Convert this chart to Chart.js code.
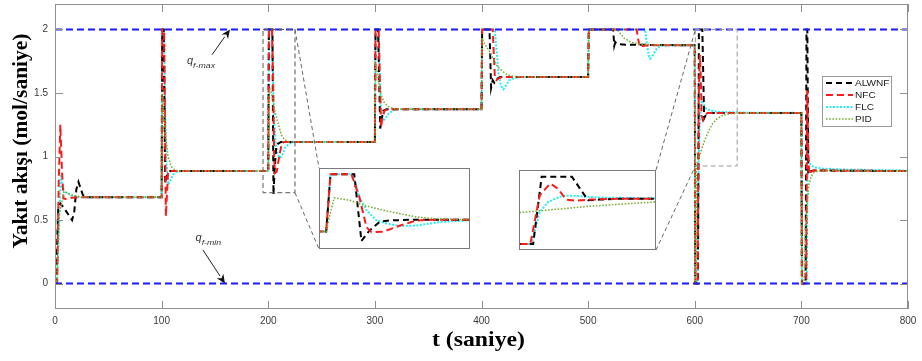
<!DOCTYPE html>
<html><head><meta charset="utf-8">
<script src="https://cdn.jsdelivr.net/npm/chart.js@4.4.1/dist/chart.umd.min.js"></script>
<style>
html,body{margin:0;padding:0;background:#fff;}
#wrap{position:relative;width:922px;height:361px;overflow:hidden;}
canvas{position:absolute;}
</style></head><body>
<div id="wrap">
<canvas id="main" width="922" height="361" style="left:0;top:0"></canvas>
<canvas id="inset1" width="151" height="81" style="left:319px;top:168px"></canvas>
<canvas id="inset2" width="137" height="80" style="left:519px;top:170px"></canvas>
</div>
<script>
// ---------- data (t [s], fuel flow [mol/s]) ----------
const seriesNames = ['ALWNF', 'NFC', 'FLC', 'PID'];
const xTicks = [0, 100, 200, 300, 400, 500, 600, 700, 800];
const yTicks = [0, 0.5, 1, 1.5, 2];
const qMaxLine = [[0, 2], [800, 2]];
const qMinLine = [[0, 0], [800, 0]];

const alwnf = [
 [0,0],[1,0],[3,0.6],[5,0.63],[8,0.6],[12,0.55],[16,0.5],[18,0.56],[20,0.74],[22,0.8],[24,0.75],[26,0.7],[28,0.68],
 [100,0.68],[100.6,2],[102,2],[103.3,0.79],[104.5,0.84],[106,0.87],[108,0.885],
 [200,0.885],[200.6,2],[203.9,2],[204.9,0.70],[206,0.9],[207.5,1.08],[209,1.1],[212,1.115],
 [300,1.115],[300.6,2],[303,2],[305,1.22],[306.5,1.3],[308,1.36],[311,1.372],
 [400,1.372],[400.6,2],[407.5,2],[409,1.54],[410.5,1.6],[412,1.58],[414,1.61],[418,1.625],
 [500,1.625],[500.6,2],[523.5,2],[524.5,1.87],[525.5,1.9],[527,1.885],[535,1.88],
 [600,1.875],[600.5,0],[603,0],[603.9,2],[607.1,2],[608.8,1.3],[610,1.32],[612,1.343],
 [700,1.343],[700.5,0],[704,0],[704.8,2],[705.6,2],[706.5,0.86],[708,0.88],[711,0.89],
 [800,0.885]
];
const nfc = [
 [0,0],[2,0],[3.5,0.8],[5,1.25],[6.5,0.9],[8,0.67],[10,0.665],[16,0.675],[22,0.68],
 [100,0.68],[100.6,2],[102.3,2],[104,0.53],[105,0.7],[106,0.87],[107.5,0.89],[110,0.885],
 [200,0.885],[200.6,2],[203.5,2],[204.6,1.56],[205.6,0.97],[206.3,0.87],[207.9,0.88],[210.3,1.0],[212.6,1.1],[215,1.115],
 [300,1.115],[300.6,2],[303.5,2],[305.8,1.23],[307,1.3],[309,1.36],[312,1.372],
 [400,1.372],[400.6,2],[410.5,2],[412.5,1.63],[414,1.6],[417,1.62],[420,1.625],
 [500,1.625],[500.6,2],[545.5,2],[547,1.92],[548.5,1.86],[551,1.87],[556,1.875],
 [600,1.875],[600.5,0],[602.7,0],[603.7,1.45],[604.8,1.8],[605.6,1.65],[606.5,1.32],[607.5,1.29],[609,1.32],[612,1.343],
 [700,1.343],[700.5,0],[704.5,0],[705.5,1.52],[706.5,1.0],[707.5,0.86],[709,0.88],[712,0.89],
 [800,0.885]
];
const flc = [
 [0,0],[2,0],[4,0.5],[5.5,0.86],[7,0.76],[9,0.72],[12,0.71],[16,0.69],[22,0.68],
 [100,0.68],[100.6,2],[102.5,2],[103.5,1.3],[104.5,0.95],[106.3,0.78],[108.5,0.82],[111,0.86],[114,0.88],[118,0.885],
 [200,0.885],[200.6,2],[203.7,2],[204.2,1.76],[204.6,1.56],[205.6,1.3],[207,1.1],[208.4,1.04],[210.3,0.99],[212.6,1.0],[215.9,1.07],[219.7,1.1],[224,1.115],
 [300,1.115],[300.6,2],[303.5,2],[304.5,1.7],[305.5,1.4],[307.5,1.28],[310,1.3],[313,1.34],[318,1.365],[322,1.372],
 [400,1.372],[400.6,2],[412.5,2],[414,1.85],[416,1.65],[418,1.56],[420.5,1.53],[423,1.56],[426,1.6],[430,1.615],[436,1.625],
 [500,1.625],[500.6,2],[553.5,2],[555.5,1.86],[557,1.79],[558.2,1.77],[561,1.8],[564,1.845],[568,1.87],[575,1.875],
 [600,1.875],[600.5,0],[602.8,0],[603.7,0.95],[604.6,1.25],[605.8,1.4],[606.5,1.44],[608,1.42],[610,1.38],[615,1.36],[625,1.35],[650,1.345],
 [700,1.343],[700.5,0],[705,0],[706,1.08],[707,0.97],[709,0.93],[712,0.915],[720,0.905],[740,0.897],
 [800,0.89]
];
const pid = [
 [0,0],[1.5,0],[4,0.55],[6,0.62],[8,0.72],[10,0.72],[14,0.7],[20,0.69],[26,0.68],
 [100,0.68],[100.6,1.5],[102,1.35],[104,1.15],[106,1.0],[109,0.92],[113,0.89],[118,0.885],
 [200,0.885],[200.5,1.2],[201.1,1.54],[203.2,1.495],[205.6,1.38],[207.9,1.30],[210.3,1.23],[212.6,1.165],[215,1.135],[219.7,1.115],
 [300,1.115],[300.6,1.72],[302,1.68],[304,1.56],[306,1.48],[309,1.42],[313,1.39],[318,1.375],[324,1.372],
 [400,1.372],[400.6,1.93],[402,1.9],[405,1.86],[408,1.82],[411,1.77],[414,1.72],[417,1.69],[420.5,1.665],[425,1.64],[430,1.63],[440,1.625],
 [500,1.625],[500.6,2],[527,2],[530,1.97],[534,1.93],[540,1.9],[548,1.885],[560,1.878],
 [600,1.875],[600.3,0],[601,0],[601.5,0.93],[605,1.02],[609,1.12],[612,1.18],[616,1.25],[620,1.29],[625,1.32],[632,1.335],[640,1.342],
 [700,1.343],[700.4,0],[702.5,0],[703.5,0.36],[705,0.55],[706.7,0.76],[709,0.84],[712,0.875],[716,0.885],[725,0.89],
 [800,0.885]
];

// zoom regions (data coordinates)
const box1X = [195.1, 225.1], box1Y = [0.715, 2];
const box2X = [600.6, 639.8], box2Y = [0.925, 2];
const inset1X = [199, 220], inset1Y = [0.544, 2.12];
const inset2X = [601.5, 616], inset2Y = [-0.18, 2.2];
// annotations (data coordinates)
const qMaxArrow = [[147.2, 1.80], [164.1, 2]];
const qMinArrow = [[138.8, 0.264], [159.4, 0]];
const qMaxText = [123.8, 1.728];
const qMinText = [131.8, 0.335];

// ---------- styles ----------
const seriesData = [alwnf, nfc, flc, pid];
const seriesColor = ['#000000', '#ff1a1a', '#22eef5', '#77ac30'];
const seriesDash = [[6,4], [7,4], [2,1.5], [1.6,1.6]];
const seriesWidth = [2, 2, 2, 1.5];
const seriesOrder = [3, 2, 4, 1];

function makeDatasets() {
  return seriesNames.map((n, i) => ({
    label: n, data: seriesData[i], borderColor: seriesColor[i], borderDash: seriesDash[i],
    borderWidth: seriesWidth[i], pointRadius: 0, tension: 0, fill: false, order: seriesOrder[i]
  }));
}

const FRAME = '#8f8f8f';
const decor = {
  id: 'decor',
  afterDatasetsDraw(chart) {
    const {ctx, chartArea: a, scales: {x, y}} = chart;
    const X = v => x.getPixelForValue(v), Y = v => y.getPixelForValue(v);
    ctx.save();
    ctx.strokeStyle = FRAME; ctx.lineWidth = 1; ctx.setLineDash([]);
    ctx.strokeRect(a.left + 0.5, a.top + 0.5, a.width - 1, a.height - 1);
    ctx.beginPath();
    xTicks.forEach(v => { const p = Math.round(X(v)) + 0.5;
      ctx.moveTo(p, a.bottom); ctx.lineTo(p, a.bottom - 8);
      ctx.moveTo(p, a.top); ctx.lineTo(p, a.top + 8); });
    yTicks.forEach(v => { const p = Math.round(Y(v)) + 0.5;
      ctx.moveTo(a.left, p); ctx.lineTo(a.left + 8, p);
      ctx.moveTo(a.right, p); ctx.lineTo(a.right - 8, p); });
    ctx.stroke();
    ctx.lineWidth = 1;
    ctx.strokeStyle = '#555'; ctx.setLineDash([5, 3]);
    const b1 = [X(box1X[0]), Y(box1Y[1]), X(box1X[1]), Y(box1Y[0])];
    ctx.strokeRect(b1[0], b1[1], b1[2] - b1[0], b1[3] - b1[1]);
    ctx.strokeStyle = '#999';
    const b2 = [X(box2X[0]), Y(box2Y[1]), X(box2X[1]), Y(box2Y[0])];
    ctx.strokeRect(b2[0], b2[1], b2[2] - b2[0], b2[3] - b2[1]);
    const i1 = document.getElementById('inset1'), i2 = document.getElementById('inset2');
    const r1 = [i1.offsetLeft, i1.offsetTop, i1.offsetLeft + i1.width, i1.offsetTop + i1.height];
    const r2 = [i2.offsetLeft, i2.offsetTop, i2.offsetLeft + i2.width, i2.offsetTop + i2.height];
    ctx.strokeStyle = '#666'; ctx.setLineDash([4, 3]);
    ctx.beginPath();
    ctx.moveTo(b1[2], b1[1]); ctx.lineTo(r1[0], r1[1]);
    ctx.moveTo(b1[2], b1[3]); ctx.lineTo(r1[0], r1[3]);
    ctx.moveTo(r2[2], r2[1]); ctx.lineTo(b2[0], b2[1]);
    ctx.moveTo(r2[2], r2[3]); ctx.lineTo(b2[0], b2[3]);
    ctx.stroke();
    ctx.setLineDash([]);
    const arrow = (p0, p1) => {
      const x0 = X(p0[0]), y0 = Y(p0[1]), x1 = X(p1[0]), y1 = Y(p1[1]);
      const ang = Math.atan2(y1 - y0, x1 - x0), L = 9, W = 4;
      ctx.strokeStyle = '#222'; ctx.lineWidth = 1;
      ctx.beginPath(); ctx.moveTo(x0, y0);
      ctx.lineTo(x1 - L * Math.cos(ang), y1 - L * Math.sin(ang)); ctx.stroke();
      ctx.fillStyle = '#111'; ctx.beginPath();
      ctx.moveTo(x1, y1);
      ctx.lineTo(x1 - L * Math.cos(ang) + W * Math.sin(ang), y1 - L * Math.sin(ang) - W * Math.cos(ang));
      ctx.lineTo(x1 - L * Math.cos(ang) * 0.7, y1 - L * Math.sin(ang) * 0.7);
      ctx.lineTo(x1 - L * Math.cos(ang) - W * Math.sin(ang), y1 - L * Math.sin(ang) + W * Math.cos(ang));
      ctx.closePath(); ctx.fill();
    };
    arrow(qMaxArrow[0], qMaxArrow[1]);
    arrow(qMinArrow[0], qMinArrow[1]);
    const qLabel = (pos, sub) => {
      const px = X(pos[0]), py = Y(pos[1]);
      ctx.fillStyle = '#333'; ctx.textBaseline = 'alphabetic'; ctx.textAlign = 'left';
      ctx.font = 'italic 11px "Liberation Sans", Arial, sans-serif';
      ctx.fillText('q', px, py);
      const w = ctx.measureText('q').width;
      ctx.font = 'italic 8px "Liberation Sans", Arial, sans-serif';
      ctx.save(); ctx.translate(px + w, py + 4); ctx.scale(1.1, 1); ctx.fillText(sub, 0, 0); ctx.restore();
    };
    qLabel(qMaxText, 'f-max');
    qLabel(qMinText, 'f-min');
    const lx = 822.5, ly = 76.5, lw = 69, lh = 50;
    ctx.fillStyle = '#fff'; ctx.fillRect(lx, ly, lw, lh);
    ctx.strokeStyle = '#9a9a9a'; ctx.lineWidth = 1; ctx.strokeRect(lx, ly, lw, lh);
    seriesNames.forEach((n, i) => {
      const ry = 83 + i * 12;
      ctx.strokeStyle = seriesColor[i]; ctx.lineWidth = seriesWidth[i]; ctx.setLineDash(seriesDash[i]);
      ctx.beginPath(); ctx.moveTo(826, ry); ctx.lineTo(853, ry); ctx.stroke();
      ctx.setLineDash([]);
      ctx.fillStyle = '#222'; ctx.font = '9px "Liberation Sans", Arial, sans-serif';
      ctx.textBaseline = 'middle'; ctx.textAlign = 'left';
      ctx.save(); ctx.translate(855, ry + 0.5); ctx.scale(1.12, 1); ctx.fillText(n, 0, 0); ctx.restore();
    });
    ctx.fillStyle = '#000';
    ctx.font = 'bold 21.5px "Liberation Serif", "Times New Roman", serif';
    ctx.textAlign = 'center'; ctx.textBaseline = 'middle';
    ctx.save(); ctx.translate(21, 141); ctx.rotate(-Math.PI / 2); ctx.fillText('Yakıt akışı (mol/saniye)', 0, 0); ctx.restore();
    ctx.font = 'bold 21px "Liberation Serif", "Times New Roman", serif';
    ctx.save(); ctx.translate(478.5, 341); ctx.scale(1.13, 1); ctx.fillText('t (saniye)', 0, 0); ctx.restore();
    ctx.restore();
  }
};

const mainDatasets = makeDatasets().concat([
  {label: 'qmax', data: qMaxLine, borderColor: '#1a1aff', borderDash: [7, 4], borderWidth: 2, pointRadius: 0, order: 0},
  {label: 'qmin', data: qMinLine, borderColor: '#1a1aff', borderDash: [7, 4], borderWidth: 2, pointRadius: 0, order: 0}
]);

new Chart(document.getElementById('main'), {
  type: 'line',
  data: {datasets: mainDatasets},
  options: {
    responsive: false, animation: false, devicePixelRatio: 1, events: [],
    layout: {padding: {left: 0, top: 4, right: 14, bottom: 0}},
    plugins: {legend: {display: false}, tooltip: {enabled: false}},
    scales: {
      x: {type: 'linear', min: 0, max: 800,
        afterBuildTicks: s => { s.ticks = xTicks.map(v => ({value: v})); },
        afterFit: s => { s.height = 52; s.paddingLeft = 0; s.paddingRight = 0; },
        grid: {display: false, drawTicks: false}, border: {display: false},
        ticks: {padding: 6, autoSkip: false, maxRotation: 0, color: '#3a3a3a',
          font: {family: '"Liberation Sans", Arial, sans-serif', size: 10}}},
      y: {type: 'linear', min: -0.2, max: 2.2,
        afterBuildTicks: s => { s.ticks = yTicks.map(v => ({value: v})); },
        afterFit: s => { s.width = 55; s.paddingTop = 0; s.paddingBottom = 0; },
        grid: {display: false, drawTicks: false}, border: {display: false},
        ticks: {padding: 7, color: '#3a3a3a', callback: v => String(v),
          font: {family: '"Liberation Sans", Arial, sans-serif', size: 10}}}
    }
  },
  plugins: [decor]
});

const insetBorder = {
  id: 'insetBorder',
  beforeDraw(chart) {
    const {ctx, width, height} = chart;
    ctx.save(); ctx.fillStyle = '#fff'; ctx.fillRect(0, 0, width, height); ctx.restore();
  },
  afterDraw(chart) {
    const {ctx, width, height} = chart;
    ctx.save(); ctx.strokeStyle = '#7a7a7a'; ctx.lineWidth = 1; ctx.setLineDash([]);
    ctx.strokeRect(0.5, 0.5, width - 1, height - 1); ctx.restore();
  }
};
function makeInset(id, xr, yr) {
  new Chart(document.getElementById(id), {
    type: 'line',
    data: {datasets: makeDatasets()},
    options: {
      responsive: false, animation: false, devicePixelRatio: 1, events: [],
      layout: {padding: 0},
      plugins: {legend: {display: false}, tooltip: {enabled: false}},
      scales: {
        x: {type: 'linear', min: xr[0], max: xr[1], display: false},
        y: {type: 'linear', min: yr[0], max: yr[1], display: false}
      }
    },
    plugins: [insetBorder]
  });
}
makeInset('inset1', inset1X, inset1Y);
makeInset('inset2', inset2X, inset2Y);
</script>
</body></html>
